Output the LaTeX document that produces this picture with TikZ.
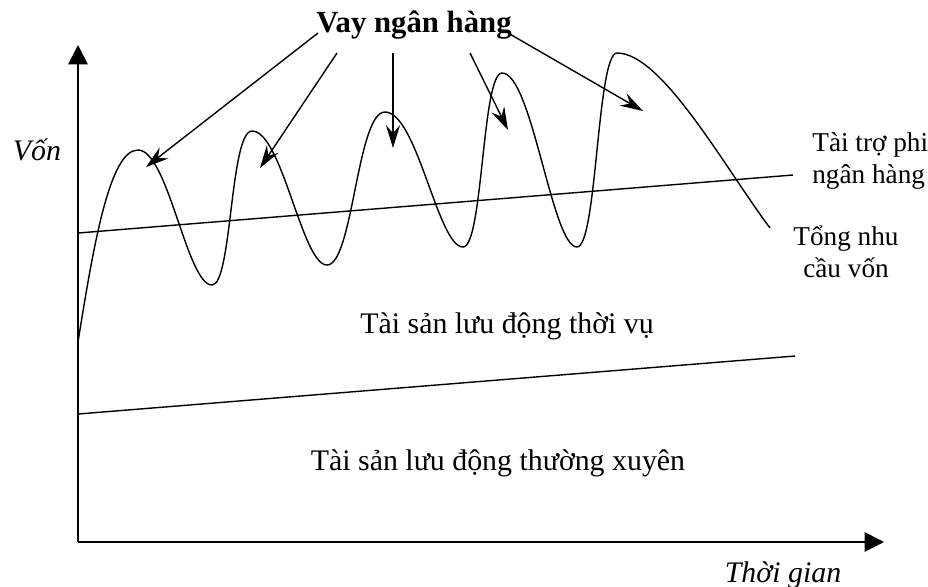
\documentclass[tikz,border=0pt]{standalone}
\usepackage{fontspec}
\setmainfont{Liberation Serif}
\usetikzlibrary{arrows.meta,positioning}

\begin{document}
\begin{tikzpicture}[x=0.02cm,y=-0.02cm,
  every node/.style={font=\fontsize{15.5}{18.5}\selectfont,inner sep=0pt},
  big/.style={font=\fontsize{17}{20}\selectfont},
  bigit/.style={font=\fontsize{17}{20}\selectfont\itshape},
  axis/.style={line width=1pt,-{Triangle[length=11pt,width=11pt]}},
  callout/.style={line width=0.8pt,-{Stealth[length=13pt,width=8pt,inset=4.5pt]}},
  level/.style={line width=0.8pt}]
  \useasboundingbox (0,0) rectangle (928,586);
  % axes
  \coordinate (o) at (78,542);
  \coordinate (ytop) at (78,45);
  \coordinate (xend) at (884,542);
  \draw[axis] (o) -- (ytop);
  \draw[axis] (o) -- (xend);
  \node[anchor=base,bigit] (von) at (37,160) {Vốn};
  \node[anchor=base,bigit] (tg) at (783,582) {Thời gian};
  % levels
  \coordinate (fa) at (78,414);
  \coordinate (fb) at (795,356);
  \coordinate (ta) at (78,233);
  \coordinate (tb) at (793,175);
  \draw[level] (fa) -- (fb);
  \draw[level] (ta) -- (tb);
  % total demand curve
  \draw[level] (78,342) .. controls +(16,-100) and +(-28,0) .. (138,150)
    .. controls +(30,0) and +(-25,0) .. (212,285)
    .. controls +(20,0) and +(-22,0) .. (252,131)
    .. controls +(30,0) and +(-25,0) .. (327,265)
    .. controls +(26,0) and +(-28,0) .. (385,112)
    .. controls +(32,0) and +(-25,0) .. (463,247)
    .. controls +(20,0) and +(-20,0) .. (502,73)
    .. controls +(30,0) and +(-25,0) .. (577,247)
    .. controls +(20,0) and +(-20,0) .. (617,53)
    .. controls +(45,0) and +(-45,-60) .. (770,228);
  % labels
  \node[anchor=base,big] (tv) at (507,333) {Tài sản lưu động thời vụ};
  \node[anchor=base,big] (tx) at (498,470) {Tài sản lưu động thường xuyên};
  \node[anchor=west,align=left] (tt) at (812,161) {Tài trợ phi\\ngân hàng};
  \node[align=center] (tn) at (846,252) {Tổng nhu\\cầu vốn};
  \node[anchor=base,font=\fontsize{17.5}{20}\selectfont\bfseries] (vay) at (414,32) {Vay ngân hàng};
  % callouts
  \coordinate (s1) at (318,33);  \coordinate (t1) at (146,167);
  \coordinate (s2) at (337,53);  \coordinate (t2) at (260,168);
  \coordinate (s3) at (393,53);  \coordinate (t3) at (393,148);
  \coordinate (s4) at (470,53);  \coordinate (t4) at (508,130);
  \coordinate (s5) at (508,33);  \coordinate (t5) at (643,111);
  \foreach \i in {1,...,5}{
    \draw[callout] (s\i) -- (t\i);
  }
\end{tikzpicture}
\end{document}
